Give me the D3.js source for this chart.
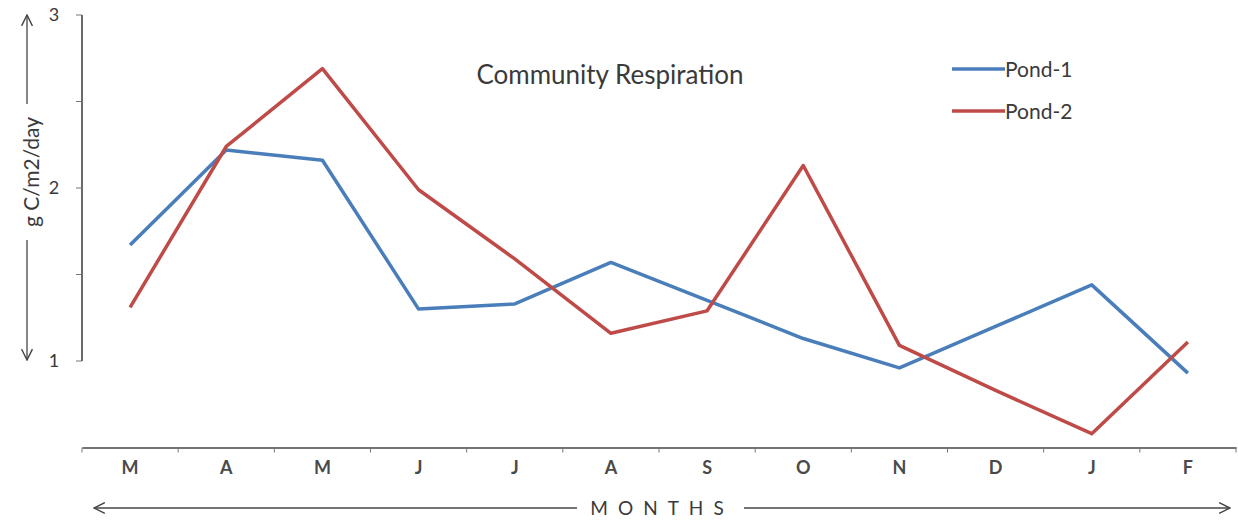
<!DOCTYPE html>
<html>
<head>
<meta charset="utf-8">
<script src="https://cdn.jsdelivr.net/npm/d3@7"></script>
<style>
  html, body { margin: 0; padding: 0; background: #fff; }
  svg { display: block; font-family: "Lato", "Open Sans", sans-serif; }
</style>
</head>
<body>
<svg id="chart" width="1238" height="527"></svg>
<script>
// Monthly community respiration (g C/m2/day), March to February
const months = ["M", "A", "M", "J", "J", "A", "S", "O", "N", "D", "J", "F"];
const pond1 = [1.67, 2.22, 2.16, 1.30, 1.33, 1.57, 1.35, 1.13, 0.96, 1.20, 1.44, 0.93];
const pond2 = [1.31, 2.24, 2.69, 1.99, 1.59, 1.16, 1.29, 2.13, 1.09, 0.83, 0.58, 1.11];
const seriesNames = ["Pond-1", "Pond-2"];
const yTicks = [1, 1.5, 2, 2.5, 3];
const yLabels = [1, 2, 3];

const colors = ["#4a7ebb", "#be4b48"];
const textColor = "#3a3a3a";
const svg = d3.select("#chart");

const x = d3.scaleBand().domain(d3.range(months.length)).range([82, 1236]);
const y = d3.scaleLinear().domain([0.5, 3]).range([447.5, 15]);

// x axis along the bottom (value 0.5)
const xAxis = d3.axisBottom(x).tickSize(0).tickFormat(i => months[i]);
const gx = svg.append("g").attr("transform", `translate(0,${y(0.5)})`).call(xAxis);
gx.select(".domain").attr("stroke", "#444").attr("stroke-width", 1.6);
gx.selectAll("text").attr("dy", "1.3em").attr("font-size", 18).attr("font-weight", 700)
  .attr("fill", "#4a4a4a").attr("font-family", "Lato, sans-serif");
// tick marks at the band boundaries
const bounds = d3.range(months.length + 1).map(i => i < months.length ? x(i) : x.range()[1]);
gx.selectAll("line.bound").data(bounds).join("line").attr("class", "bound")
  .attr("x1", d => d).attr("x2", d => d).attr("y1", 0).attr("y2", 5)
  .attr("stroke", "#777").attr("stroke-width", 1);

// y axis spanning 1 to 3
const gy = svg.append("g").attr("transform", `translate(82,0)`);
gy.append("line").attr("y1", y(1)).attr("y2", y(3)).attr("stroke", "#444").attr("stroke-width", 1.6);
gy.selectAll("line.tick").data(yTicks).join("line").attr("class", "tick")
  .attr("x1", -6).attr("x2", 0).attr("y1", d => y(d)).attr("y2", d => y(d))
  .attr("stroke", "#777");
gy.selectAll("text").data(yLabels).join("text")
  .attr("x", -28).attr("y", d => y(d)).attr("dy", "0.35em")
  .attr("text-anchor", "middle").attr("font-size", 18).attr("fill", textColor)
  .text(d => d);

// lines
const line = d3.line().x((d, i) => x(i) + x.bandwidth() / 2).y(d => y(d));
[pond1, pond2].forEach((s, k) => {
  svg.append("path").datum(s).attr("d", line).attr("fill", "none")
    .attr("stroke", colors[k]).attr("stroke-width", 3.5).attr("stroke-linejoin", "round");
});

// title
svg.append("text").attr("x", 610).attr("y", 84).attr("text-anchor", "middle")
  .attr("font-size", 26).attr("fill", textColor).text("Community Respiration");

// legend
const lg = svg.append("g");
seriesNames.forEach((n, k) => {
  const ly = 69 + k * 42;
  lg.append("line").attr("x1", 952).attr("x2", 1005).attr("y1", ly).attr("y2", ly)
    .attr("stroke", colors[k]).attr("stroke-width", 3.5);
  lg.append("text").attr("x", 1005).attr("y", ly).attr("dy", "0.36em")
    .attr("font-size", 21).attr("fill", textColor).text(n);
});

// arrow markers
const defs = svg.append("defs");
defs.append("marker").attr("id", "arr").attr("viewBox", "0 0 12 12")
  .attr("refX", 11).attr("refY", 6).attr("markerWidth", 13).attr("markerHeight", 13)
  .attr("markerUnits", "userSpaceOnUse").attr("orient", "auto")
  .append("path").attr("d", "M1,1 L11,6 L1,11").attr("fill", "none")
  .attr("stroke", "#444").attr("stroke-width", 1.3);

// y title with arrows
svg.append("text").attr("transform", `translate(39,172) rotate(-90)`)
  .attr("text-anchor", "middle").attr("font-size", 21).attr("fill", textColor)
  .text("g C/m2/day");
svg.append("line").attr("x1", 27).attr("x2", 27).attr("y1", 104).attr("y2", 15)
  .attr("stroke", "#444").attr("stroke-width", 1.3).attr("marker-end", "url(#arr)");
svg.append("line").attr("x1", 27).attr("x2", 27).attr("y1", 240).attr("y2", 360)
  .attr("stroke", "#444").attr("stroke-width", 1.3).attr("marker-end", "url(#arr)");

// x title with arrows
svg.append("text").attr("x", 662).attr("y", 515).attr("text-anchor", "middle")
  .attr("font-size", 19).attr("letter-spacing", 10).attr("fill", textColor).text("MONTHS");
svg.append("line").attr("x1", 577).attr("x2", 94).attr("y1", 508).attr("y2", 508)
  .attr("stroke", "#444").attr("stroke-width", 1.4).attr("marker-end", "url(#arr)");
svg.append("line").attr("x1", 744).attr("x2", 1230).attr("y1", 508).attr("y2", 508)
  .attr("stroke", "#444").attr("stroke-width", 1.4).attr("marker-end", "url(#arr)");
</script>
</body>
</html>
